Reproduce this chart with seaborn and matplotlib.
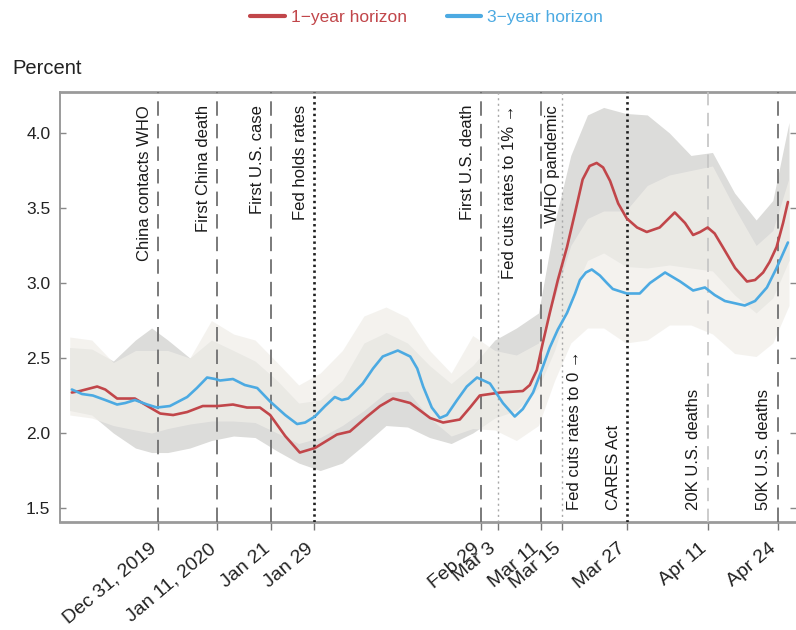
import matplotlib
matplotlib.use("Agg")
import pandas as pd
import matplotlib.pyplot as plt
import matplotlib.dates as mdates
import matplotlib.transforms as mtransforms
from matplotlib.lines import Line2D
import seaborn as sns

# ---------------- data ----------------
BASE = "2019-12-31"   # day 0

one_year_days = [-16.0, -14.5, -11.3, -9.8, -7.6, -4.3, -1.5, 0.4, 2.8, 5.4, 8.3, 11.1, 13.9,
                 16.5, 18.9, 20.8, 23.6, 26.3, 29.1, 33.2, 35.6, 38.8, 41.2, 43.6, 46.8, 50.5,
                 52.9, 56.0, 57.9, 59.7, 63.5, 67.7, 69.0, 70.3, 71.4, 72.7, 74.2, 75.9, 77.4,
                 78.8, 80.1, 81.4, 82.6, 83.9, 85.4, 87.0, 88.9, 90.7, 93.1, 95.9, 97.8, 99.3,
                 100.6, 102.0, 103.3, 104.8, 107.1, 109.3, 110.8, 112.3, 113.5, 114.8, 116.0,
                 116.9]
one_year = [2.27, 2.28, 2.31, 2.29, 2.23, 2.23, 2.17, 2.13, 2.12, 2.14, 2.18, 2.18, 2.19,
            2.17, 2.17, 2.12, 1.98, 1.87, 1.90, 1.99, 2.01, 2.11, 2.18, 2.23, 2.20, 2.10,
            2.07, 2.09, 2.17, 2.25, 2.27, 2.28, 2.32, 2.42, 2.60, 2.80, 3.02, 3.24, 3.47,
            3.69, 3.78, 3.80, 3.77, 3.68, 3.53, 3.43, 3.37, 3.34, 3.37, 3.47, 3.40, 3.32,
            3.34, 3.37, 3.33, 3.24, 3.10, 3.01, 3.02, 3.07, 3.14, 3.24, 3.40, 3.54]

three_year_days = [-16.0, -14.1, -12.1, -9.8, -7.6, -6.1, -4.3, -2.0, -0.2, 2.2, 5.4, 7.2, 9.1,
                   10.6, 11.5, 13.9, 16.1, 18.4, 20.8, 23.6, 25.8, 27.3, 29.1, 31.0, 32.8, 34.1,
                   35.3, 38.0, 39.9, 41.7, 44.5, 46.8, 48.1, 49.2, 50.8, 52.3, 53.6, 55.5, 57.3,
                   59.2, 61.6, 64.0, 66.2, 67.7, 69.6, 71.2, 72.7, 74.2, 75.9, 77.4, 78.3, 79.4,
                   80.5, 82.0, 83.3, 84.4, 87.0, 89.4, 91.3, 94.1, 96.9, 99.3, 101.5, 103.3,
                   105.2, 108.9, 110.8, 113.0, 114.8, 116.9]
three_year = [2.29, 2.26, 2.25, 2.22, 2.19, 2.20, 2.22, 2.19, 2.17, 2.18, 2.24, 2.30, 2.37,
              2.36, 2.35, 2.36, 2.32, 2.30, 2.21, 2.12, 2.06, 2.07, 2.11, 2.18, 2.24, 2.22,
              2.23, 2.33, 2.43, 2.51, 2.55, 2.51, 2.43, 2.31, 2.17, 2.10, 2.12, 2.22, 2.31,
              2.37, 2.33, 2.20, 2.11, 2.16, 2.27, 2.42, 2.57, 2.69, 2.80, 2.93, 3.02, 3.07,
              3.09, 3.05, 3.00, 2.96, 2.93, 2.93, 3.00, 3.07, 3.01, 2.95, 2.97, 2.92,
              2.88, 2.85, 2.88, 2.97, 3.10, 3.27]

band_days = [-16.4, -12.3, -8.3, -4.2, -1.2, 1.8, 5.9, 9.9, 14.0, 18.0, 22.1, 26.1, 30.1,
             34.2, 38.2, 42.3, 46.3, 50.4, 54.4, 58.4, 62.5, 66.5, 70.6, 73.6, 76.6, 79.7,
             82.7, 86.8, 90.8, 94.9, 98.9, 102.9, 107.0, 111.0, 114.1, 117.1]

one_year_hi = [2.57, 2.56, 2.48, 2.62, 2.70, 2.62, 2.50, 2.62, 2.55, 2.48, 2.35, 2.20, 2.22,
               2.35, 2.60, 2.67, 2.60, 2.45, 2.33, 2.45, 2.62, 2.70, 2.80, 3.40, 3.85, 4.12,
               4.17, 4.13, 4.12, 4.00, 3.85, 3.87, 3.60, 3.42, 3.55, 4.07]
one_year_lo = [2.15, 2.12, 2.00, 1.90, 1.87, 1.87, 1.90, 1.95, 1.98, 1.97, 1.88, 1.80, 1.75,
               1.80, 1.92, 2.05, 2.04, 1.97, 1.93, 2.00, 2.10, 2.15, 2.30, 2.55, 2.90, 3.15,
               3.20, 3.11, 3.10, 3.12, 3.10, 3.08, 2.92, 2.80, 2.90, 3.15]
three_year_hi = [2.64, 2.62, 2.47, 2.55, 2.55, 2.55, 2.50, 2.75, 2.66, 2.62, 2.47, 2.32, 2.40,
                 2.55, 2.78, 2.84, 2.77, 2.55, 2.40, 2.65, 2.55, 2.52, 2.60, 2.90, 3.25, 3.43,
                 3.48, 3.48, 3.65, 3.72, 3.75, 3.78, 3.50, 3.25, 3.35, 3.70]
three_year_lo = [2.12, 2.10, 2.05, 2.02, 2.00, 2.03, 2.06, 2.08, 2.08, 2.07, 2.00, 1.93, 1.97,
                 2.05, 2.15, 2.27, 2.28, 2.10, 1.98, 2.03, 2.02, 1.95, 2.05, 2.35, 2.60, 2.70,
                 2.70, 2.60, 2.62, 2.72, 2.72, 2.66, 2.53, 2.51, 2.60, 2.85]

series_names = ["1\u2212year horizon", "3\u2212year horizon"]

tick_dates = ["2019-12-31", "2020-01-11", "2020-01-21", "2020-01-29", "2020-02-29",
              "2020-03-03", "2020-03-11", "2020-03-15", "2020-03-27", "2020-04-11",
              "2020-04-24"]
tick_labels = ["Dec 31, 2019", "Jan 11, 2020", "Jan 21", "Jan 29", "Feb 29", "Mar 3",
               "Mar 11", "Mar 15", "Mar 27", "Apr 11", "Apr 24"]

event_labels = ["China contacts WHO", "First China death", "First U.S. case",
                "Fed holds rates", "First U.S. death", "Fed cuts rates to 1% \u2192",
                "WHO pandemic", "Fed cuts rates to 0 \u2192", "CARES Act",
                "20K U.S. deaths", "50K U.S. deaths"]

y_ticks = [1.5, 2.0, 2.5, 3.0, 3.5, 4.0]

# ---------------- styles ----------------
RED = "#c1464a"
BLUE = "#4caae2"
DASH = dict(color="#707070", lw=1.3, dashes=(8, 4.5))
DOT = dict(color="#1e1e1e", lw=1.9, dashes=(0.9, 1.3))
LDOT = dict(color="#a8a8a8", lw=1.0, dashes=(1.5, 2.5))
LDASH = dict(color="#c4c4c4", lw=1.2, dashes=(8, 4.5))
event_styles = [DASH, DASH, DASH, DOT, DASH, LDOT, DASH, LDOT, DOT, LDASH, DASH]
event_place = [("top", "L"), ("top", "L"), ("top", "L"), ("top", "L"), ("top", "L"),
               ("top", "R"), ("top", "R"), ("bottom", "R"), ("bottom", "L"),
               ("bottom", "L"), ("bottom", "L")]

sns.set_style("white")
plt.rcParams["font.family"] = ["Liberation Sans", "DejaVu Sans"]

W, H = 796, 630
fig = plt.figure(figsize=(W / 100, H / 100), dpi=100)
ax = fig.add_axes([60 / W, (H - 522) / H, (W - 60) / W, 430 / H])

base = pd.Timestamp(BASE)
bd = base + pd.to_timedelta(band_days, unit="D")

# bands
ax.fill_between(bd, one_year_lo, one_year_hi, color="#dcdcda", lw=0, zorder=1)
ax.fill_between(bd, three_year_lo, three_year_hi, color="#f0eee9", alpha=0.73, lw=0, zorder=2)

# event lines + labels
trans = mtransforms.blended_transform_factory(ax.transData, ax.transAxes)
for d, lab, st, (vpos, side) in zip(tick_dates, event_labels, event_styles, event_place):
    xn = mdates.date2num(pd.Timestamp(d).to_pydatetime())
    ax.axvline(xn, zorder=3, **st)
    y = 0.970 if vpos == "top" else 0.028
    if side == "L":
        off, ha = -4.5, "right"
    else:
        off, ha = 3.5, "left"
    ax.annotate(lab, xy=(xn, y), xycoords=trans, xytext=(off, 0), textcoords="offset points",
                rotation=90, ha=ha, va=vpos, fontsize=12, color="#1a1a1a", zorder=6)

# lines
df = pd.DataFrame({
    "date": list(base + pd.to_timedelta(one_year_days, unit="D"))
            + list(base + pd.to_timedelta(three_year_days, unit="D")),
    "value": one_year + three_year,
    "series": [series_names[0]] * len(one_year) + [series_names[1]] * len(three_year),
})
sns.lineplot(data=df, x="date", y="value", hue="series", palette=[RED, BLUE],
             linewidth=1.9, estimator=None, sort=False, legend=False, ax=ax, zorder=5,
             solid_joinstyle="round", solid_capstyle="round")

# axes
ax.set_xlim(mdates.date2num((base - pd.Timedelta(days=18.2)).to_pydatetime()),
            mdates.date2num((base + pd.Timedelta(days=118.4)).to_pydatetime()))
ax.set_ylim(1.407, 4.273)
ax.set_xlabel("")
ax.set_ylabel("")
ax.tick_params(axis="x", direction="out", length=6, width=1, color="#777777", pad=7,
               bottom=True)
ax.tick_params(axis="y", direction="in", length=4, width=1, color="#888888", pad=7,
               left=True, right=True)
ax.set_yticks(y_ticks)
ax.set_yticklabels([f"{v:.1f}" for v in y_ticks], fontsize=12.5, color="#222222")
ax.set_xticks([mdates.date2num(pd.Timestamp(d).to_pydatetime()) for d in tick_dates])
ax.set_xticklabels(tick_labels, fontsize=14, color="#222222")
shift = mtransforms.ScaledTranslation(-9 / 100, 0, fig.dpi_scale_trans)
for lbl in ax.get_xticklabels():
    lbl.set_rotation(40)
    lbl.set_ha("right")
    lbl.set_rotation_mode("anchor")
    lbl.set_transform(lbl.get_transform() + shift)
for s in ["top", "bottom"]:
    ax.spines[s].set_color("#9a9a9a")
    ax.spines[s].set_linewidth(2)
ax.spines["left"].set_color("#8a8a8a")
ax.spines["left"].set_linewidth(1.2)
ax.spines["right"].set_visible(False)

fig.text(12 / W, 1 - 68 / H, "Percent", fontsize=14.5, va="center", ha="left", color="#222222")

handles = [Line2D([0], [0], color=RED, lw=3), Line2D([0], [0], color=BLUE, lw=3)]
fig.legend(handles, series_names, loc="center", bbox_to_anchor=(0.536, 1 - 17 / H), ncol=2,
           frameon=False, fontsize=12.5, handlelength=2.0, handletextpad=0.35,
           columnspacing=2.3, labelcolor=[RED, BLUE])

fig.savefig("out.png", dpi=100)
